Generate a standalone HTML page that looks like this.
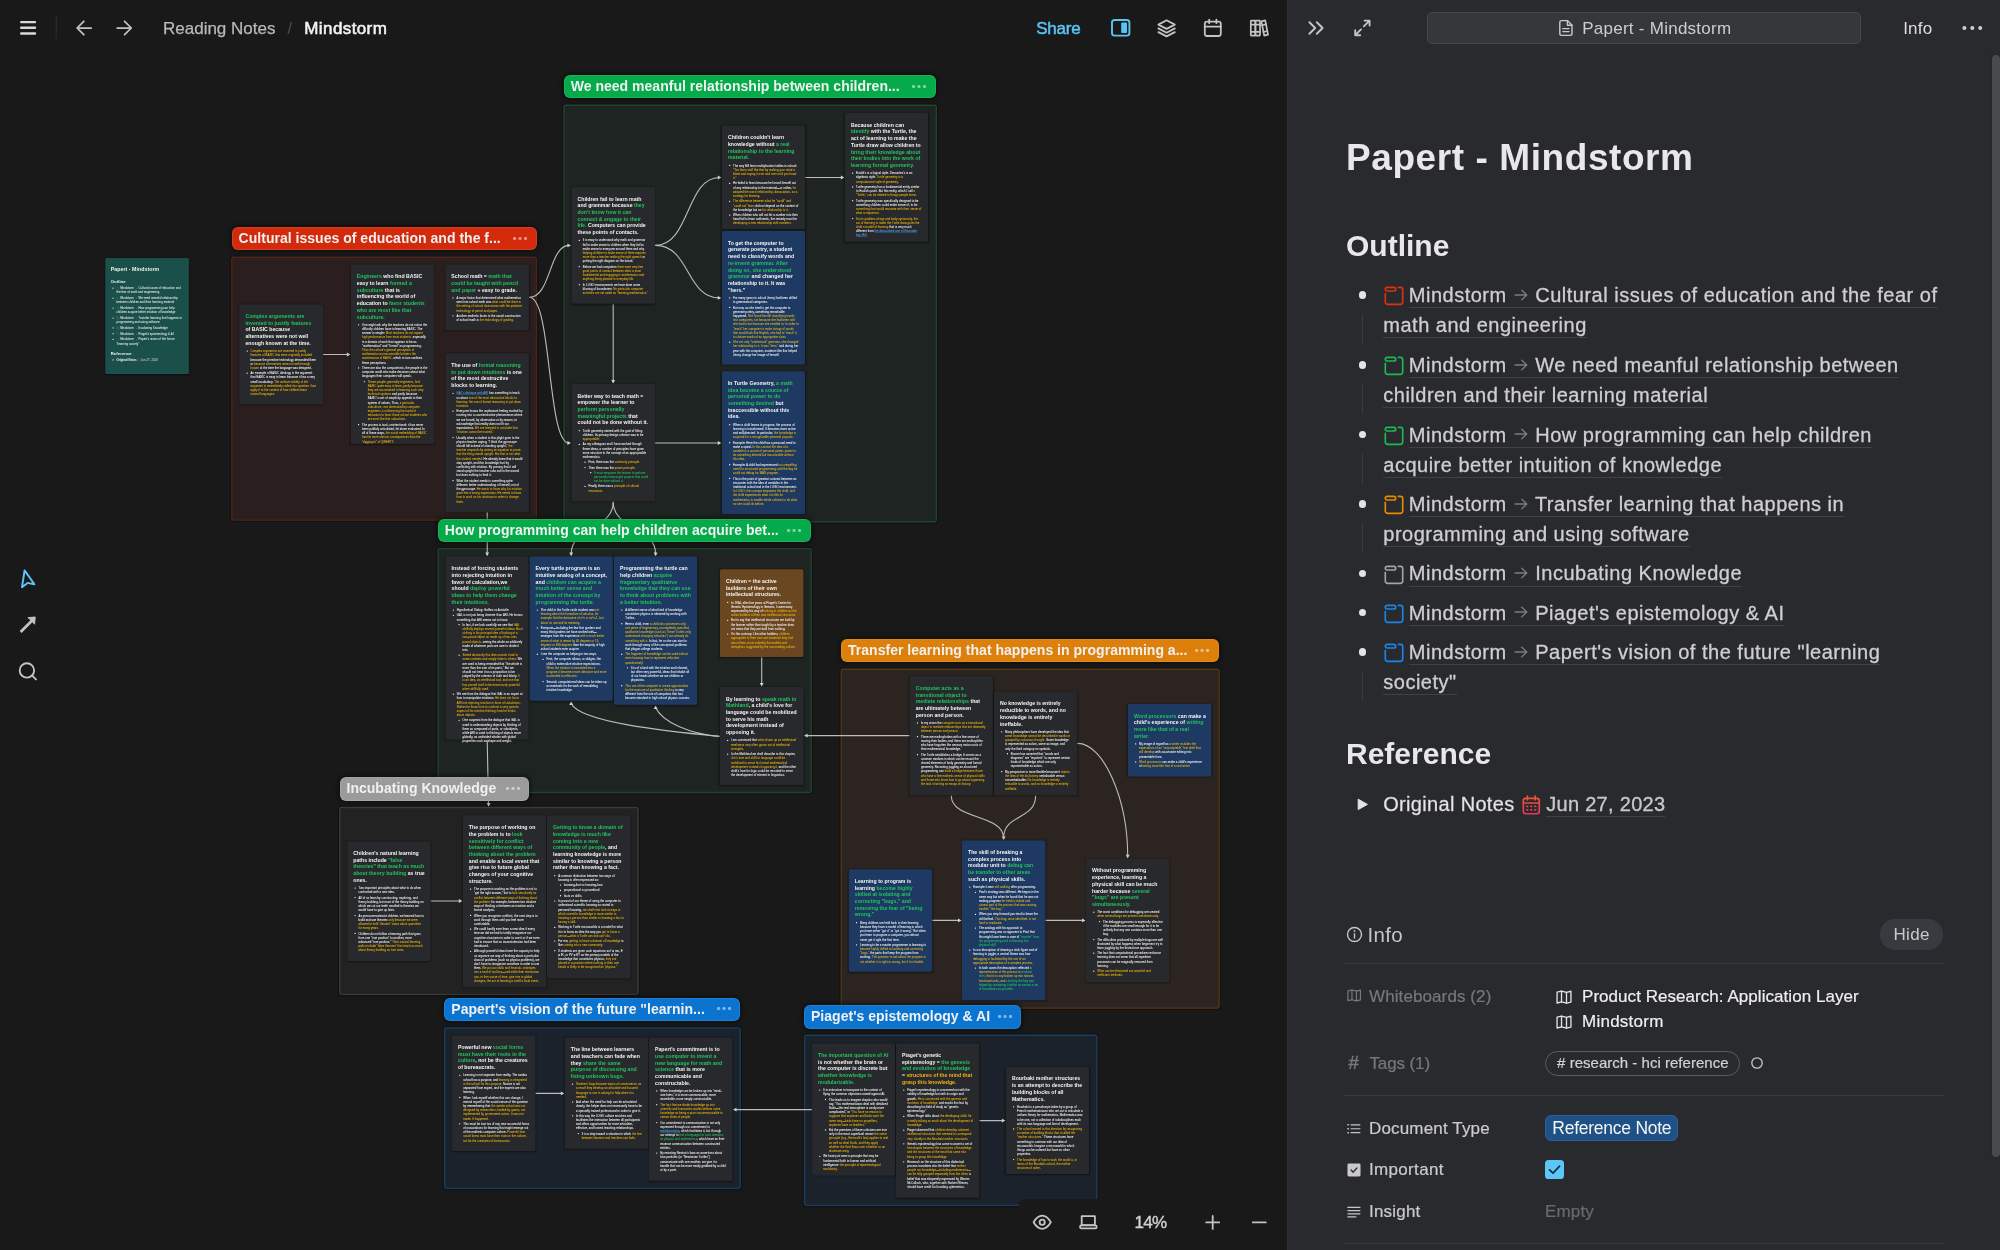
<!DOCTYPE html>
<html><head><meta charset="utf-8"><title>Mindstorm</title>
<style>
*{box-sizing:border-box;margin:0;padding:0}
html,body{width:2000px;height:1250px;overflow:hidden;background:#191919}
body{font-family:"Liberation Sans",sans-serif;color:#e6e6e6;position:relative}
#canvas{position:absolute;left:0;top:0;width:1287px;height:1250px;background:#191919;overflow:hidden;will-change:transform}
#panel{position:absolute;left:1287px;top:0;width:713px;height:1250px;background:#292a2e;box-shadow:inset 1px 0 0 #2f3034;overflow:hidden;will-change:transform}
.abs{position:absolute}
svg{position:absolute;overflow:visible}
/* top bar */
.tb-text{position:absolute;top:0;height:57.2px;line-height:57.2px;font-size:17px;white-space:nowrap}
/* sections */
.sec{position:absolute;border-radius:3px}
.lab{position:absolute;height:23.4px;border-radius:6px;color:#f0f0f0;font-weight:700;font-size:14px;line-height:23.4px;padding-left:7px;letter-spacing:.02px;white-space:nowrap;box-shadow:inset 0 0 0 1px rgba(255,255,255,.09),0 0 5px 1px rgba(0,0,0,.55)}
.lab i{position:absolute;right:9.5px;top:9.9px;width:14.2px;height:3.2px;opacity:.5;background:radial-gradient(circle at 1.6px 1.6px,#fff 1.45px,transparent 1.75px) 0 0/5.5px 3.2px repeat-x}
/* cards */
.ci{position:absolute;left:0;top:0;width:596px;transform-origin:0 0;padding:60.5px 43px 0 39px;color:#f4f4f4;letter-spacing:.55px;background:#28292d;border-radius:11px;box-shadow:0 3px 14px rgba(0,0,0,.45)}
.ci.blue{background:#1e3a63}
.ci.brown{background:#6a4621}
.ci.teal{background:#1a4f4a}
.ci h3{font-size:37px;line-height:48px;font-weight:700;margin-bottom:18px;margin-left:4px;letter-spacing:0;white-space:nowrap}
.ci ul{list-style:none;font-size:20px;line-height:30px;padding-left:41px;font-weight:400;-webkit-text-stroke:.3px}
.ci ul ul{padding-left:41px;margin-top:7px}
.ci li{position:relative;margin-bottom:8px}
.ci li:before{content:"";position:absolute;left:-29px;top:10px;width:9px;height:9px;border-radius:50%;background:#fff}
.g{color:#21c45d}
.y{color:#f0b90c}
.o{color:#f2b31c}
.b{color:#4aa8f5;text-decoration:underline}
/* panel doc */
.doc h1{position:absolute;left:59px;font-size:37px;font-weight:700;color:#e8e8e8;letter-spacing:.58px;white-space:nowrap}
.doc h2{position:absolute;left:59px;font-size:30px;font-weight:700;color:#e8e8e8;white-space:nowrap}

.ol{position:absolute;font-size:20px;line-height:30px;color:#cfcfcf;white-space:nowrap;letter-spacing:.5px;-webkit-text-stroke:.3px #cfcfcf}
.lk{border-bottom:1.3px solid #404146;padding-bottom:0px;display:inline-block;line-height:27px;height:26.4px}
.ar{display:inline-block;width:14px;height:12px;position:relative;top:-1.5px;margin:0 1px 0 1.5px}
.ar svg{position:static}
.pl{position:absolute;font-size:17px;line-height:22px;white-space:nowrap;color:#cbcbcb;margin-top:.7px;-webkit-text-stroke:.2px}
.dim{color:#77787d}
.hr{position:absolute;left:57px;width:600px;height:1px;background:#3a3b40}

.tl{white-space:nowrap;opacity:.92}
.tl li{margin-bottom:11px !important}
</style></head>
<body>
<div id="canvas">
<svg class="abs" style="left:0;top:0" width="1287" height="1250" viewBox="0 0 1287 1250">
<rect x="230.5" y="256.0" width="307.2" height="265.4" rx="2.8" fill="none" stroke="#0c0c0c" stroke-opacity=".5" stroke-width="1.2"/>
<rect x="231.78" y="257.28" width="304.65" height="262.85" rx="1.8" fill="#2a1f1e" stroke="#50221a" stroke-width="1.35"/>
<rect x="562.7" y="104.0" width="374.9" height="419.0" rx="2.8" fill="none" stroke="#0c0c0c" stroke-opacity=".5" stroke-width="1.2"/>
<rect x="563.97" y="105.27" width="372.35" height="416.45" rx="1.8" fill="#1e2421" stroke="#1f452d" stroke-width="1.35"/>
<rect x="436.8" y="547.4" width="375.7" height="246.4" rx="2.8" fill="none" stroke="#0c0c0c" stroke-opacity=".5" stroke-width="1.2"/>
<rect x="438.07" y="548.67" width="373.15" height="243.85" rx="1.8" fill="#1e2421" stroke="#1f452d" stroke-width="1.35"/>
<rect x="840.0" y="668.0" width="380.4" height="341.4" rx="2.8" fill="none" stroke="#0c0c0c" stroke-opacity=".5" stroke-width="1.2"/>
<rect x="841.27" y="669.27" width="377.85" height="338.85" rx="1.8" fill="#2b2420" stroke="#533616" stroke-width="1.35"/>
<rect x="338.5" y="806.2" width="300.9" height="189.4" rx="2.8" fill="none" stroke="#0c0c0c" stroke-opacity=".5" stroke-width="1.2"/>
<rect x="339.78" y="807.47" width="298.35" height="186.85" rx="1.8" fill="#222222" stroke="#3a3a3a" stroke-width="1.35"/>
<rect x="443.3" y="1026.6" width="298.2" height="163.0" rx="2.8" fill="none" stroke="#0c0c0c" stroke-opacity=".5" stroke-width="1.2"/>
<rect x="444.57" y="1027.88" width="295.65" height="160.45" rx="1.8" fill="#1b222b" stroke="#1b3d5e" stroke-width="1.35"/>
<rect x="803.3" y="1034.0" width="294.8" height="172.7" rx="2.8" fill="none" stroke="#0c0c0c" stroke-opacity=".5" stroke-width="1.2"/>
<rect x="804.57" y="1035.27" width="292.25" height="170.15" rx="1.8" fill="#1b222b" stroke="#1b3d5e" stroke-width="1.35"/>
</svg>
<svg class="abs" style="left:0;top:0" width="1287" height="1250" viewBox="0 0 1287 1250" fill="none" stroke="#bcbcbc" stroke-width="1.1" stroke-linecap="round">
<path d="M323.4 354.5H349"/>
<polygon points="350.4,354.5 346.79999999999995,352.6 346.79999999999995,356.4" fill="#d0d0d0" stroke="none"/>
<path d="M529.4 297.3C551 297.3 549 245.4 569 245.4"/>
<polygon points="571,245.4 567.4,243.5 567.4,247.3" fill="#d0d0d0" stroke="none"/>
<path d="M529.4 297.3C552 297.3 547 443 569 443"/>
<polygon points="571,443 567.4,441.1 567.4,444.9" fill="#d0d0d0" stroke="none"/>
<path d="M655.3 245.4C690 245.4 686 177.5 719.5 177.5"/>
<polygon points="721.4,177.5 717.8,175.6 717.8,179.4" fill="#d0d0d0" stroke="none"/>
<path d="M655.3 245.4C690 245.4 686 297.9 719.5 297.9"/>
<polygon points="721.4,297.9 717.8,296.0 717.8,299.79999999999995" fill="#d0d0d0" stroke="none"/>
<path d="M613.2 304V382"/>
<polygon points="613.2,383.6 611.3000000000001,380.0 615.1,380.0" fill="#d0d0d0" stroke="none"/>
<path d="M655.3 443H719.5"/>
<polygon points="721.4,443 717.8,441.1 717.8,444.9" fill="#d0d0d0" stroke="none"/>
<path d="M805.4 177.5H842.6"/>
<polygon points="844.4,177.5 840.8,175.6 840.8,179.4" fill="#d0d0d0" stroke="none"/>
<path d="M613.2 502C613.2 530 571.2 526 571.2 554"/>
<polygon points="571.2,556.2 569.3000000000001,552.6 573.1,552.6" fill="#d0d0d0" stroke="none"/>
<path d="M613.2 502C613.2 530 655.6 526 655.6 554"/>
<polygon points="655.6,556.2 653.7,552.6 657.5,552.6" fill="#d0d0d0" stroke="none"/>
<path d="M487.2 512.6V554"/>
<polygon points="487.2,556.2 485.3,552.6 489.09999999999997,552.6" fill="#d0d0d0" stroke="none"/>
<path d="M761.7 657.4V684.6"/>
<polygon points="761.7,686.6 759.8000000000001,683.0 763.6,683.0" fill="#d0d0d0" stroke="none"/>
<path d="M719.5 736.4C664 731 580 722 571.2 703.5"/>
<polygon points="571.2,701.3 569.3000000000001,704.9 573.1,704.9" fill="#d0d0d0" stroke="none"/>
<path d="M719.5 736.4C690 734 662 722 655.6 707.5"/>
<polygon points="655.6,705.4 653.7,709.0 657.5,709.0" fill="#d0d0d0" stroke="none"/>
<path d="M909.3 735.6H806"/>
<polygon points="804,735.6 807.6,733.7 807.6,737.5" fill="#d0d0d0" stroke="none"/>
<path d="M487.2 740L488.5 804.6"/>
<polygon points="488.6,806.6 486.70000000000005,803.0 490.5,803.0" fill="#d0d0d0" stroke="none"/>
<path d="M951.3 795.7C951.3 820 1003.6 814 1003.6 838"/>
<polygon points="1003.6,840 1001.7,836.4 1005.5,836.4" fill="#d0d0d0" stroke="none"/>
<path d="M1035.6 795.7C1035.6 820 1003.6 814 1003.6 838"/>
<path d="M1077.6 743.4C1104 743.4 1127.7 800 1127.7 856.4"/>
<polygon points="1127.7,858.4 1125.8,854.8 1129.6000000000001,854.8" fill="#d0d0d0" stroke="none"/>
<path d="M932.5 920.4H959.6"/>
<polygon points="961.6,920.4 958.0,918.5 958.0,922.3" fill="#d0d0d0" stroke="none"/>
<path d="M1045.7 920.4H1083.6"/>
<polygon points="1085.6,920.4 1082.0,918.5 1082.0,922.3" fill="#d0d0d0" stroke="none"/>
<path d="M431 901H460.4"/>
<polygon points="462.4,901 458.79999999999995,899.1 458.79999999999995,902.9" fill="#d0d0d0" stroke="none"/>
<path d="M535.8 1093.4H562.4"/>
<polygon points="564.4,1093.4 560.8,1091.5 560.8,1095.3000000000002" fill="#d0d0d0" stroke="none"/>
<path d="M811.5 1109.6H735"/>
<polygon points="732.9,1109.6 736.5,1107.6999999999998 736.5,1111.5" fill="#d0d0d0" stroke="none"/>
<path d="M979.6 1120.6H1003.5"/>
<polygon points="1005.5,1120.6 1001.9,1118.6999999999998 1001.9,1122.5" fill="#d0d0d0" stroke="none"/>
</svg>
<div class="ci teal" style="transform:translate(105.3px,257.9px) scale(.14);width:597px;height:828.6px;padding-top:55px;color:#eef3f2">
<div style="font-size:37px;font-weight:700;line-height:52px;letter-spacing:.5px">Papert - Mindstorm</div>
<div style="font-size:30px;font-weight:700;line-height:40px;margin-top:43px">Outline</div>
<ul class="tl" style="margin-top:12px"><li><svg style="position:static;vertical-align:-3px;margin-right:5px" width="21" height="21" viewBox="0 0 21 21" fill="none" stroke="#d4512f" stroke-width="1.7"><path d="M11.2 2.6H16.2A2.6 2.6 0 0 1 18.8 5.2V16.4A2.6 2.6 0 0 1 16.2 19H3.8A2.6 2.6 0 0 1 1.2 16.4V6.4"/><rect x="1.2" y="0.9" width="8.8" height="3.4" rx="1.7"/></svg>Mindstorm &rarr; Cultural issues of education and<br>the fear of math and engineering</li><li><svg style="position:static;vertical-align:-3px;margin-right:5px" width="21" height="21" viewBox="0 0 21 21" fill="none" stroke="#2aa85a" stroke-width="1.7"><path d="M11.2 2.6H16.2A2.6 2.6 0 0 1 18.8 5.2V16.4A2.6 2.6 0 0 1 16.2 19H3.8A2.6 2.6 0 0 1 1.2 16.4V6.4"/><rect x="1.2" y="0.9" width="8.8" height="3.4" rx="1.7"/></svg>Mindstorm &rarr; We need meanful relationship<br>between children and their learning material</li><li><svg style="position:static;vertical-align:-3px;margin-right:5px" width="21" height="21" viewBox="0 0 21 21" fill="none" stroke="#2aa85a" stroke-width="1.7"><path d="M11.2 2.6H16.2A2.6 2.6 0 0 1 18.8 5.2V16.4A2.6 2.6 0 0 1 16.2 19H3.8A2.6 2.6 0 0 1 1.2 16.4V6.4"/><rect x="1.2" y="0.9" width="8.8" height="3.4" rx="1.7"/></svg>Mindstorm &rarr; How programming can help<br>children acquire better intuition of knowledge</li><li><svg style="position:static;vertical-align:-3px;margin-right:5px" width="21" height="21" viewBox="0 0 21 21" fill="none" stroke="#d98a1a" stroke-width="1.7"><path d="M11.2 2.6H16.2A2.6 2.6 0 0 1 18.8 5.2V16.4A2.6 2.6 0 0 1 16.2 19H3.8A2.6 2.6 0 0 1 1.2 16.4V6.4"/><rect x="1.2" y="0.9" width="8.8" height="3.4" rx="1.7"/></svg>Mindstorm &rarr; Transfer learning that happens in<br>programming and using software</li><li><svg style="position:static;vertical-align:-3px;margin-right:5px" width="21" height="21" viewBox="0 0 21 21" fill="none" stroke="#8fa5a2" stroke-width="1.7"><path d="M11.2 2.6H16.2A2.6 2.6 0 0 1 18.8 5.2V16.4A2.6 2.6 0 0 1 16.2 19H3.8A2.6 2.6 0 0 1 1.2 16.4V6.4"/><rect x="1.2" y="0.9" width="8.8" height="3.4" rx="1.7"/></svg>Mindstorm &rarr; Incubating Knowledge</li><li><svg style="position:static;vertical-align:-3px;margin-right:5px" width="21" height="21" viewBox="0 0 21 21" fill="none" stroke="#2a86d8" stroke-width="1.7"><path d="M11.2 2.6H16.2A2.6 2.6 0 0 1 18.8 5.2V16.4A2.6 2.6 0 0 1 16.2 19H3.8A2.6 2.6 0 0 1 1.2 16.4V6.4"/><rect x="1.2" y="0.9" width="8.8" height="3.4" rx="1.7"/></svg>Mindstorm &rarr; Piaget's epistemology &amp; AI</li><li><svg style="position:static;vertical-align:-3px;margin-right:5px" width="21" height="21" viewBox="0 0 21 21" fill="none" stroke="#2a86d8" stroke-width="1.7"><path d="M11.2 2.6H16.2A2.6 2.6 0 0 1 18.8 5.2V16.4A2.6 2.6 0 0 1 16.2 19H3.8A2.6 2.6 0 0 1 1.2 16.4V6.4"/><rect x="1.2" y="0.9" width="8.8" height="3.4" rx="1.7"/></svg>Mindstorm &rarr; Papert's vision of the future<br>"learning society"</li></ul>
<div style="font-size:30px;font-weight:700;line-height:40px;margin-top:34px">Reference</div>
<ul class="tl" style="margin-top:12px"><li style="font-weight:700">Original Notes <span style="display:inline-block;width:17px;height:18px;border:2.5px solid #e8505f;border-radius:3px;vertical-align:-3px"></span> <span style="font-weight:400;opacity:.8">Jun 27, 2023</span></li></ul>
</div>
<div class="ci " style="transform:translate(239.4px,304.4px) scale(.14);width:597.14px;height:714.29px"><h3><span class="g">Complex arguments are</span><br><span class="g">invented to justify features</span><br>of BASIC because<br>alternatives were not well<br>enough known at the time.</h3><ul><li><span class="y">Complex arguments are invented to justify features of BASIC that were originally included</span> because the primitive technology demanded them or <span class="y">because alternatives were not well enough known</span> at the time the language was designed.</li><li>An example of BASIC ideology is the argument that BASIC is easy to learn because it has a very small vocabulary. <span class="y">The surface validity of the argument is immediately called into question if we apply it to the context of how children learn natural languages.</span></li></ul></div>
<div class="ci " style="transform:translate(350.8px,264.7px) scale(.14);width:594.29px;height:1280.71px"><h3><span class="g">Engineers</span> who find BASIC<br>easy to learn <span class="g">formed a</span><br><span class="g">subculture</span> that is<br>influencing the world of<br>education to <span class="g">favor students</span><br><span class="g">who are most like that</span><br><span class="g">subculture.</span></h3><ul><li>One might ask why the teachers do not notice the difficulty children have in learning BASIC. The answer is simple: <span class="y">Most teachers do not expect high performance from most students,</span> especially in a domain of work that appears to be as "mathematical" and "formal" as programming. <span class="y">Thus the culture's general perception of mathematics as inaccessible bolsters the maintenance of BASIC,</span> which in turn confirms these perceptions.</li><li>There are also the computerists, the people in the computer world who make decisions about what languages their computers will speak.<ul><li><span class="y">These people, generally engineers, find BASIC quite easy to learn, partly because they are accustomed to learning such very technical systems</span> and partly because BASIC's sort of simplicity appeals to their system of values. Thus, <span class="y">a particular subculture, one dominated by computer engineers, is influencing the world of education to favor those school students who are most like that subculture.</span></li></ul></li><li>The process is tacit, unintentional: it has never been publicly articulated, let alone evaluated. In all of these ways, <span class="y">the social embedding of BASIC has far more serious consequences than the "digging in" of QWERTY.</span></li></ul></div>
<div class="ci " style="transform:translate(445.3px,264.7px) scale(.14);width:597.86px;height:469.29px"><h3>School math = <span class="g">math that</span><br><span class="g">could be taught with pencil</span><br><span class="g">and paper</span> + easy to grade.</h3><ul><li>A major factor that determined what mathematics went into school math was <span class="y">what could be done in the setting of school classrooms with the primitive technology of pencil and paper.</span></li><li>Another mathetic factor in the social construction of school math is <span class="y">the technology of grading.</span></li></ul></div>
<div class="ci " style="transform:translate(445.3px,353.3px) scale(.14);width:597.86px;height:1135.71px"><h3>The use of <span class="g">formal reasoning</span><br><span class="g">to put down intuitions</span> is one<br>of the most destructive<br>blocks to learning.</h3><ul><li><span class="b">GAL's dialogue with ARI</span> has something to teach us about <span class="y">one of the most destructive blocks to learning: the use of formal reasoning to put down intuitions.</span></li><li>Everyone knows the unpleasant feeling evoked by running into a counterintuitive phenomenon where we are forced, by observation or by reason, to acknowledge that reality does not fit our expectations. <span class="y">We are tempted to conclude that "intuition cannot be trusted."</span></li><li>Usually when a student in this plight goes to the physics teacher saying, "I think the gyroscope should fall instead of standing upright," <span class="y">the teacher responds by writing an equation to prove that the thing stands upright. But that is not what the student needed.</span> He already knew that it would stay upright, and this knowledge hurt by conflicting with intuition. By proving that it will stand upright the teacher rubs salt in the wound but does nothing to heal it.</li><li>What the student needs is something quite different: better understanding of himself, not of the gyroscope. <span class="y">He wants to know why his intuition gave him a wrong expectation. He needs to know how to work on his intuitions in order to change them.</span></li></ul></div>
<div class="ci " style="transform:translate(571.5px,187px) scale(.14);width:595.71px;height:832.86px"><h3>Children fail to learn math<br>and grammar because <span class="g">they</span><br><span class="g">don't know how it can</span><br><span class="g">connect &amp; engage to their</span><br><span class="g">life.</span> Computers can provide<br>these points of contacts.</h3><ul><li>It is easy to understand why math and grammar fail to make sense to children when they fail to make sense to everyone around them and why <span class="y">helping children to make sense of them requires more than a teacher making the right speech</span> or putting the right diagram on the board.</li><li>Before we had computers <span class="y">there were very few good points of contact between what is most fundamental and engaging in mathematics and anything firmly planted in everyday life.</span></li><li>In LOGO environments we have done some blurring of boundaries: <span class="y">No particular computer activities are set aside as "learning mathematics."</span></li></ul></div>
<div class="ci " style="transform:translate(721.9px,125.5px) scale(.14);width:593.57px;height:739.29px"><h3>Children couldn't learn<br>knowledge without <span class="g">a real</span><br><span class="g">relationship to the learning</span><br><span class="g">material.</span></h3><ul><li>The way Bill learn multiplication tables in school: <span class="y">"You learn stuff like that by making your mind a blank and saying it over and over until you know it."</span></li><li>He failed to learn because he forced himself out of any relationship to the material—or rather, <span class="y">he adopted the worst relationship, dissociation, as a strategy for learning.</span></li><li><span class="y">The difference between what he "could" and "could not" learn</span> did not depend on the content of the knowledge but on <span class="y">his relationship to it.</span></li><li>When children who will not let a number into their head fail to learn arithmetic, the remedy must be <span class="y">developing a new relationship with numbers.</span></li></ul></div>
<div class="ci blue" style="transform:translate(721.9px,231.1px) scale(.14);width:593.57px;height:952.86px"><h3>To get the computer to<br>generate poetry, a student<br>need to classify words and<br><span class="g">re-invent grammar. After</span><br><span class="g">doing so, she understood</span><br><span class="g">grammar</span> and changed her<br>relationship to it. It was<br>"hers."</h3><ul><li>For many years in school Jenny had been drilled in grammatical categories.</li><li>But now, as she tried to get the computer to generate poetry, something remarkable happened. <span class="y">She found herself classifying words into categories, not because she had been told she had to but because she needed to. In order to "teach" her computer to make strings of words that would look like English, she had to "teach" it to choose words of an appropriate class.</span></li><li><span class="y">She not only "understood" grammar, she changed her relationship to it. It was "hers,"</span> and during her year with the computer, incidents like this helped Jenny change her image of herself.</li></ul></div>
<div class="ci " style="transform:translate(844.9px,113.1px) scale(.14);width:593.57px;height:917.86px"><h3>Because children can<br><span class="g">identify</span> with the Turtle, the<br>act of learning to make the<br>Turtle draw allow children to<br><span class="g">bring their knowledge about</span><br><span class="g">their bodies into the work of</span><br><span class="g">learning formal geometry.</span></h3><ul><li>Euclid's is a logical style. Descartes's is an algebraic style. <span class="y">Turtle geometry is a computational style of geometry.</span></li><li>Turtle geometry has a fundamental entity similar to Euclid's point. But this entity, which I call <span class="y">a "Turtle," can be related to things people know.</span></li><li>Turtle geometry was specifically designed to be something children could make sense of, to be <span class="y">something that would resonate with their sense of what is important.</span></li><li><span class="y">So its qualities of ego and body syntonicity, the act of learning to make the Turtle draw gives the child a model of learning</span> that is very much different from <span class="b">the dissociated one a fifth-grade boy, Bill.</span></li></ul></div>
<div class="ci " style="transform:translate(571.5px,384px) scale(.14);width:595.71px;height:839.29px"><h3>Better way to teach math =<br>empower the learner to<br><span class="g">perform personally</span><br><span class="g">meaningful projects</span> that<br>could not be done without it.</h3><ul><li>Turtle geometry started with the goal of fitting children. Its primary design criterion was to be <span class="y">appropriable.</span></li><li>As my colleagues and I have worked through these ideas, a number of principles have given more structure to the concept of an appropriable mathematics.<ul><li>First, there was the <span class="y">continuity principle.</span></li><li>Then there was the <span class="y">power principle.</span><ul><li><span class="g">It must empower the learner to perform personally meaningful projects that could not be done without it.</span></li></ul></li><li>Finally there was a <span class="y">principle of cultural resonance.</span></li></ul></li></ul></div>
<div class="ci blue" style="transform:translate(721.9px,371.3px) scale(.14);width:593.57px;height:1021.43px"><h3>In Turtle Geometry, <span class="g">a math</span><br><span class="g">idea become a source of</span><br><span class="g">personal power to do</span><br><span class="g">something desired</span> but<br>inaccessible without this<br>idea.</h3><ul><li>When a child learns to program, the process of learning is transformed. It becomes more active and self-directed. In particular, <span class="y">the knowledge is acquired for a recognizable personal purpose.</span></li><li>Example: Here the child has a personal need to make a spiral. <span class="y">In this context the idea of a variable is a source of personal power, power to do something desired but inaccessible without this idea.</span></li><li>Example: A child had experienced <span class="y">no compelling need for structured programming until the day he could not debug his MAN program.</span></li><li>This is the point of greatest contrast between an encounter with the idea of variables in the traditional school and in the LOGO environment. <span class="y">In LOGO, the concept empowers the child, and the child experiences what it is like for mathematics to enable whole cultures to do what no one could do before.</span></li></ul></div>
<div class="ci " style="transform:translate(445.6px,556.6px) scale(.14);width:592.86px;height:1306.43px"><h3>Instead of forcing students<br>into rejecting intuition in<br>favor of calculation,we<br>should <span class="g">deploy powerful</span><br><span class="g">ideas to help them change</span><br><span class="g">their intuitions.</span></h3><ul><li>Hypothetical Dialog: Galileo vs Aristotle</li><li>GAL is not just being cleverer than ARI. He knows something that ARI seems not to know.<ul><li>In fact, if we look carefully we see that <span class="y">GAL skillfully deploys several powerful ideas. Most striking is his principal idea of looking at a two-pound object as made up of two one-pound objects,</span> seeing the whole as additively made of whatever parts we care to divide it into.</li><li><span class="y">Stated abstractly this idea sounds trivial in some contexts and simply false in others:</span> We are used to being reminded that "the whole is more than the sum of its parts." But we should not treat it as a proposition to be judged by the criterion of truth and falsity. <span class="y">It is an idea, an intellectual tool, and one that has proved itself to be enormously powerful when skillfully used.</span></li></ul></li><li>We see from the dialogue that GAL is an expert at how to manipulate intuitions. <span class="y">He does not force ARI into rejecting intuition in favor of calculation. Rather he forces him to confront a very specific aspect of his intuitive thinking: how he thinks about objects.</span><ul><li>One suspects from the dialogue that GAL is used to understanding objects by thinking of them as composed of parts, or subobjects, while ARI is used to thinking of objects more globally, as undivided wholes with global properties such as shape and weight.</li></ul></li></ul></div>
<div class="ci blue" style="transform:translate(529.6px,556.6px) scale(.14);width:594.29px;height:1029.29px"><h3>Every turtle program is an<br>intuitive analog of a concept,<br>and <span class="g">children can acquire a</span><br><span class="g">much better sense and</span><br><span class="g">intuition of the concept by</span><br><span class="g">programming the turtle.</span></h3><ul><li>The child in the Turtle circle incident was <span class="y">not learning about the formalism of calculus, for example that the derivative of x^n is nx^n-1, but about its use and its meaning.</span></li><li>Everyone—including the few first graders and many third graders we have worked with—emerges from the experience <span class="y">with a much better sense of what is meant by 45 degrees or 10 degrees or 360 degrees</span> than the majority of high school students ever acquire.</li><li>I see the computer as helping in two ways.<ul><li>First, the computer allows, or obliges, the child to externalize intuitive expectations. <span class="y">When the intuition is translated into a program it becomes more obtrusive and more accessible to reflection.</span></li><li>Second, computational ideas can be taken up as materials for the work of remodeling intuitive knowledge.</li></ul></li></ul></div>
<div class="ci blue" style="transform:translate(614px,556.6px) scale(.14);width:594.29px;height:1059.29px"><h3>Programming the turtle can<br>help children <span class="g">acquire</span><br><span class="g">fragmentary qualitative</span><br><span class="g">knowledge that they can use</span><br><span class="g">to think about problems with</span><br><span class="g">a better intuition.</span></h3><ul><li>A different sense of what kind of knowledge constitutes physics is obtained by working with Turtles.</li><li>Here a child, even <span class="y">a child who possesses only one piece of fragmentary, incompletely specified, qualitative knowledge (such as "these Turtles only understand changing velocities") can already do something with it.</span> In fact, he or she can start to work through many of the conceptual problems that plague college students.</li><li><span class="y">The fragment of knowledge can be used without even knowing how to represent velocities quantitatively!</span><ul><li>It is of a kind with the intuitive and informal, but often very powerful, ideas that inhabit all of our heads whether we are children or physicists.</li></ul></li><li><span class="y">This use of the computer to create opportunities for the exercise of qualitative thinking</span> is very different from the use of computers that has become standard in high school physics courses.</li></ul></div>
<div class="ci brown" style="transform:translate(719.9px,569.2px) scale(.14);width:597.14px;height:627.14px"><h3>Children = the active<br>builders of their own<br>intellectual structures.</h3><ul><li>In 1964, after five years at Piaget's Center for Genetic Epistemology in Geneva, I came away impressed by his way of <span class="y">looking at children as the active builders of their own intellectual structures.</span></li><li>But to say that intellectual structures are built by the learner rather than taught by a teacher does not mean that they are built from nothing.</li><li>On the contrary: Like other builders, <span class="y">children appropriate to their own use materials they find about them, most saliently the models and metaphors suggested by the surrounding culture.</span></li></ul></div>
<div class="ci " style="transform:translate(719.9px,687px) scale(.14);width:597.14px;height:700.0px"><h3>By learning to <span class="g">speak math in</span><br><span class="g">Mathland</span>, a child's love for<br>language could be mobilized<br>to serve his math<br>development instead of<br>opposing it.</h3><ul><li>I am convinced that <span class="y">what shows up as intellectual weakness very often grows out of intellectual strengths.</span></li><li>In the Mathland we shall describe in this chapter, <span class="y">Jim's love and skill for language could be mobilized to serve his formal mathematical development instead of opposing it,</span> and the other child's love for logic could be recruited to serve the development of interest in linguistics.</li></ul></div>
<div class="ci " style="transform:translate(909.7px,676.3px) scale(.14);width:595.0px;height:850.0px"><h3><span class="g">Computer acts as a</span><br><span class="g">transitional object to</span><br><span class="g">mediate relationships</span> that<br>are ultimately between<br>person and person.</h3><ul><li>In my vision the <span class="y">computer acts as a transitional object to mediate relationships that are ultimately between person and person.</span></li><li>There are mathophobes with a fine sense of moving their bodies, and there are mathophiles who have forgotten the sensory motor roots of their mathematical knowledge.</li><li>The Turtle establishes a bridge. It serves as a common medium in which can be recast the shared elements of body geometry and formal geometry. Recasting juggling as structured programming can <span class="y">build a bridge between those who have a fine mathetic sense of physical skills and those who know how to go about organizing the task of writing an essay on history.</span></li></ul></div>
<div class="ci " style="transform:translate(993.9px,691.8px) scale(.14);width:595.0px;height:739.29px"><h3>No knowledge is entirely<br>reducible to words, and no<br>knowledge is entirely<br>ineffable.</h3><ul><li>Many philosophers have developed the idea that <span class="y">some knowledge cannot be described in words or grasped by conscious thought.</span> Some knowledge is represented as action, some as image, and only the third category as symbols.<ul><li>Bruner has asserted that "words and diagrams" are "impotent" to represent certain kinds of knowledge which are only representable as action.</li></ul></li><li>My perspective is more flexible because it <span class="y">rejects the idea of the dichotomy</span> verbalizable versus nonverbalizable. <span class="y">No knowledge is entirely reducible to words, and no knowledge is entirely ineffable.</span></li></ul></div>
<div class="ci blue" style="transform:translate(1127.9px,704px) scale(.14);width:595.0px;height:517.14px"><h3><span class="g">Word processors</span> can make a<br>child's experience of <span class="g">writing</span><br><span class="g">more like that of a real</span><br><span class="g">writer.</span></h3><ul><li>My image of myself as <span class="y">a writer includes the expectation of an "unacceptable" first draft that will develop</span> with successive editing into presentable form.</li><li><span class="y">Word processors</span> can make a child's experience of <span class="y">writing more like that of a real writer.</span></li></ul></div>
<div class="ci blue" style="transform:translate(848.8px,869.3px) scale(.14);width:595.0px;height:730.71px"><h3>Learning to program is<br>learning <span class="g">become highly</span><br><span class="g">skilled at isolating and</span><br><span class="g">correcting "bugs," and</span><br><span class="g">removing the fear of "being</span><br><span class="g">wrong."</span></h3><ul><li>Many children are held back in their learning because they have a model of learning in which you have either "got it" or "got it wrong." But when you learn to program a computer, you almost never get it right the first time.</li><li>Learning to be a master programmer is learning to <span class="y">become highly skilled at isolating and correcting "bugs,"</span> the parts that keep the program from working. <span class="y">The question to ask about the program is not whether it is right or wrong, but if it is fixable.</span></li></ul></div>
<div class="ci blue" style="transform:translate(962px,840.4px) scale(.14);width:595.0px;height:1141.43px"><h3>The skill of breaking a<br>complex process into<br>modular unit to <span class="g">debug can</span><br><span class="g">be transfer to other areas</span><br>such as physical skills.</h3><ul><li>Example: Learn <span class="y">stilt walking</span> after programming.<ul><li>Paul's strategy was different. He began in the same way but when he found that he was not making progress <span class="y">he tried to isolate and correct part of the process that was causing trouble: "the bug."</span></li><li>When you step forward you tend to leave the stilt behind. <span class="y">This bug, once identified, is not hard to eradicate.</span></li><li>The analogy with his approach to programming was so apparent to Paul that this might have been a case of <span class="g">"transfer" from the programming work to learning this physical skill.</span></li></ul></li><li>In our description of drawing a stick figure and of learning to juggle, a central theme was how <span class="y">debugging is facilitated by the use of an appropriate description of a complex process.</span><ul><li>In both cases the description reflected <span class="y">a representation of the process in</span> <span class="g">modular form</span><span class="y">, that is to say broken up into natural, functional units, and</span> <span class="g">catching the bug was helped by containing it within as narrow a set of boundaries as possible.</span></li></ul></li></ul></div>
<div class="ci " style="transform:translate(1086px,858.8px) scale(.14);width:595.71px;height:880.71px"><h3>Without programming<br>experience, learning a<br>physical skill can be much<br>harder because <span class="g">several</span><br><span class="g">"bugs" are present</span><br><span class="g">simultaneously.</span></h3><ul><li>The worst conditions for debugging are created <span class="y">when several bugs are present simultaneously.</span><ul><li>The debugging process is especially effective if the modules are small enough for it to be unlikely that any one contains more than one bug.</li></ul></li><li>The difficulties produced by multiple bugs are well illustrated by what happens when beginners try to learn juggling by the brute-force approach.</li><li>The fact that computational procedures enhance learning does not mean that all repetitive processes can be magically removed from learning.</li><li><span class="y">What can be eliminated are wasteful and inefficient methods.</span></li></ul></div>
<div class="ci " style="transform:translate(347.3px,841.4px) scale(.14);width:594.29px;height:853.57px"><h3>Children's natural learning<br>paths include <span class="g">"false</span><br><span class="g">theories" that teach as much</span><br><span class="g">about theory building</span> as true<br>ones.</h3><ul><li>Two important principles about what to do when confronted with a new idea.</li><li>All of us learn by constructing, exploring, and theory building, but most of the theory building on which we cut our teeth resulted in theories we would have to give up later.</li><li>As preconservationist children, we learned how to build and use theories <span class="y">only because we were allowed to hold "deviant" views about quantities for many years.</span></li><li>Children do not follow a learning path that goes from one "true position" to another, more advanced "true position." <span class="y">Their natural learning paths include "false theories" that teach as much about theory building as true ones.</span></li></ul></div>
<div class="ci " style="transform:translate(462.8px,815.6px) scale(.14);width:595.71px;height:1225.71px"><h3>The purpose of working on<br>the problem is to <span class="g">look</span><br><span class="g">sensitively for conflict</span><br><span class="g">between different ways of</span><br><span class="g">thinking about the problem</span><br>and enable a local event that<br>give rise to future global<br>changes of your cognitive<br>structure.</h3><ul><li>The purpose in working on the problem is not to "get the right answer," but to <span class="y">look sensitively for conflict between different ways of thinking about the problem:</span> for example, between two intuitive ways of thinking or between an intuitive and a formal analysis.</li><li>When you recognize conflicts, the next step is to work through them until you feel more comfortable.</li><li>We could hardly ever learn a new idea if every time we did we had to totally reorganize our cognitive structures in order to use it or if we even had to ensure that no inconsistencies had been introduced.</li><li>Although powerful ideas have the capacity to help us organize our way of thinking about a particular class of problems (such as physics problems), we don't have to reorganize ourselves in order to use them. <span class="y">We put our skills and heuristic strategies into a kind of tool box—and while their interaction can, in the course of time, give rise to global changes, the act of learning is itself a local event.</span></li></ul></div>
<div class="ci " style="transform:translate(547px,815.6px) scale(.14);width:595.71px;height:1162.14px"><h3><span class="g">Getting to know a domain of</span><br><span class="g">knowledge is much like</span><br><span class="g">coming into a new</span><br><span class="g">community of people</span>, and<br>learning knowledge is more<br>similar to knowing a person<br>rather than knowing a fact.</h3><ul><li>A common distinction between two ways of knowing is often expressed as:<ul><li>knowing-that vs knowing-how</li><li>propositional vs procedural</li><li>facts vs skills.</li></ul></li><li>In pursuit of our theme of using the computer to understand scientific knowing as rooted in personal knowing, <span class="y">we shall next look at ways in which scientific knowledge is more similar to knowing a person than similar to knowing a fact or having a skill.</span></li><li>Working in Turtle microworlds is a model for what it is to know an idea the way you <span class="y">get to know a person—what a Turtle can and can't do.</span></li><li>For me, <span class="y">getting to know a domain of knowledge</span> is like <span class="y">coming into a new community.</span></li><li>If students are given such equations as f = ma, E = IR, or PV = RT as the primary models of the knowledge that constitutes physics, <span class="y">they are placed in a position where nothing in their own heads is likely to be recognized as "physics."</span></li></ul></div>
<div class="ci " style="transform:translate(452px,1035.4px) scale(.14);width:595.71px;height:825.0px"><h3>Powerful new <span class="g">social forms</span><br><span class="g">must have their roots in the</span><br><span class="g">culture</span>, not be the creatures<br>of bureaucrats.</h3><ul><li>Learning is not separate from reality. The samba school has a purpose, and <span class="y">learning is integrated in the school for this purpose.</span> Novice is not separated from expert, and the experts are also learning.</li><li>When I ask myself whether this can change, I remind myself of the social nature of the question by remembering that <span class="y">the samba school was not designed by researchers, funded by grants, nor implemented by government action. It was not made. It happened.</span></li><li>This must be true too of any new successful forms of associations for learning that might emerge out of the mathetic computer culture. <span class="y">Powerful new social forms must have their roots in the culture, not be the creatures of bureaucrats.</span></li></ul></div>
<div class="ci " style="transform:translate(564.8px,1037.5px) scale(.14);width:594.29px;height:795.0px"><h3>The line between learners<br>and teachers can fade when<br>they <span class="g">share the same</span><br><span class="g">purpose of discussing and</span><br><span class="g">fixing unknown bugs.</span></h3><ul><li><span class="y">Students' bugs become topics of conversation; as a result they develop an articulate and focused language to use in asking for help when it is needed.</span></li><li>And when the need for help can be articulated clearly, the helper does not necessarily have to be a specially trained professional in order to give it.</li><li>In this way the LOGO culture enriches and facilitates the interaction between all participants and offers opportunities for more articulate, effective, and honest teaching relationships.<ul><li>It is a step toward a situation in which <span class="y">the line between learners and teachers can fade.</span></li></ul></li></ul></div>
<div class="ci " style="transform:translate(649px,1037.5px) scale(.14);width:595.71px;height:1024.29px"><h3>Papert's commitment is to<br><span class="g">use computer to invent a</span><br><span class="g">new language for math and</span><br><span class="g">science</span> that is more<br>communicable and<br>constructable.</h3><ul><li>When knowledge can be broken up into "mind-size bites," it is more communicable, more assimilable, more simply constructable.</li><li><span class="y">The fact that we divide knowledge up into scientific and humanistic worlds defines some knowledge as being a priori uncommunicable to certain kinds of people.</span></li><li>Our commitment to communication is not only expressed through our commitment to <span class="b">modularization</span>, which facilitates it, but through our attempt to <span class="g">find a language for such domains as physics and mathematics</span>, which have as their essence communication between constructed entities.</li><li>By restating Newton's laws as assertions about how particles (or "Newtonian Turtles") communicate with one another, we give it a handle that can be more easily grabbed by a child or by a poet.</li></ul></div>
<div class="ci " style="transform:translate(812px,1043.4px) scale(.14);width:592.86px;height:943.57px"><h3><span class="g">The important question of AI</span><br>is not whether the brain or<br>the computer is discrete but<br><span class="g">whether knowledge is</span><br><span class="g">modularizable.</span></h3><ul><li>It is instructive to transpose to the context of flying the common objections raised against AI.<ul><li>This leads us to imagine skeptics who would say, "You mathematicians deal with idealized fluids—the real atmosphere is vastly more complicated," or <span class="y">"You have no reason to suppose that airplanes and birds work the same way—birds have no propellers, airplanes have no feathers."</span></li><li>But the premises of these criticisms are true only in the most superficial sense: <span class="y">the same principle (e.g., Bernoulli's law) applies to real as well as ideal fluids, and they apply whether the fluid flows over a feather or an aluminum wing.</span></li></ul></li><li>We have just seen a principle that may be fundamental both to human and artificial intelligence: <span class="y">the principle of epistemological modularity.</span></li></ul></div>
<div class="ci " style="transform:translate(896px,1043.4px) scale(.14);width:594.29px;height:1102.14px"><h3>Piaget's genetic<br>epistemology = <span class="g">the genesis</span><br><span class="g">and evolution of knowledge</span><br>= <span class="o">structures of the mind that</span><br><span class="o">grasp this knowledge.</span></h3><ul><li>Piaget's epistemology is concerned not with the validity of knowledge but with its origin and growth. <span class="y">He is concerned with the genesis and evolution of knowledge,</span> and marks this fact by describing his field of study as "genetic epistemology."</li><li>When Piaget talks about <span class="y">the developing child, he is really talking as much about the development of knowledge.</span></li><li>Piaget observed that <span class="y">children develop coherent intellectual structures that seemed to correspond very closely to the Bourbaki mother structures.</span></li><li>Genetic epistemology has come to assert a set of <span class="y">homologies between the structures of knowledge and the structures of the mind that come into being to grasp this knowledge.</span></li><li>Research on the structure of this dialectical process translates into the belief that <span class="y">neither people nor knowledge—including mathematics—can be fully grasped separately from the other,</span> a belief that was eloquently expressed by Warren McCulloch, who, together with Norbert Wiener, should have credit for founding cybernetics.</li></ul></div>
<div class="ci " style="transform:translate(1005.9px,1066.9px) scale(.14);width:593.57px;height:765.0px"><h3>Bourbaki mother structures<br>is an attempt to describe the<br>building blocks of all<br>Mathematics.</h3><ul><li>Bourbaki is a pseudonym taken by a group of French mathematicians who set out to articulate a uniform theory for mathematics. Mathematics was to be one, not a collection of subdisciplines each with its own language and line of development.</li><li><span class="y">The school moved in this direction by recognizing a number of building blocks that it called the "mother structures."</span> These structures have something in common with our idea of microworlds. Imagine a microworld in which things can be ordered but have no other properties.</li><li><span class="y">The knowledge of how to work the world is, in terms of the Bourbaki school, the mother structure of order.</span></li></ul></div>
<div class="lab" style="left:231.6px;top:227px;width:305.4px;background:#d32a0b">Cultural issues of education and the f...<i></i></div>
<div class="lab" style="left:563.7px;top:75px;width:372.3px;background:#05ab4a">We need meanful relationship between children...<i></i></div>
<div class="lab" style="left:437.8px;top:518.8px;width:373.2px;background:#05ab4a">How programming can help children acquire bet...<i></i></div>
<div class="lab" style="left:841px;top:638.8px;width:378px;background:#dc800b">Transfer learning that happens in programming a...<i></i></div>
<div class="lab" style="left:339.5px;top:777.4px;width:189.9px;background:#9b9b9b">Incubating Knowledge<i></i></div>
<div class="lab" style="left:444.3px;top:997.6px;width:295.9px;background:#0a74d0">Papert's vision of the future "learnin...<i></i></div>
<div class="lab" style="left:804px;top:1005.4px;width:217.4px;background:#0a74d0">Piaget's epistemology &amp; AI<i></i></div>

<!-- top bar left -->
<svg class="abs" style="left:0;top:0" width="1287" height="56" viewBox="0 0 1287 56" fill="none" stroke="#c4c4c4" stroke-width="2" stroke-linecap="round" stroke-linejoin="round">
  <path d="M21.2 22.1H35M21.2 27.8H35M21.2 33.5H35" stroke="#d8d8d8" stroke-width="2.4"/>
  <path d="M56.2 16V38.5" stroke="#2c2c2c" stroke-width="1.2"/>
  <path d="M91.2 28H77.3M83.8 21.3L77.1 28L83.8 34.7" stroke-width="1.75"/>
  <path d="M117.2 28H131.1M124.6 21.3L131.3 28L124.6 34.7" stroke-width="1.75"/>
  <!-- panel toggle -->
  <rect x="1112" y="20" width="17.4" height="15.6" rx="2.6" stroke="#5ac4f5" stroke-width="1.9"/>
  <rect x="1121.2" y="22.6" width="5.8" height="10.4" rx="1" fill="#5ac4f5" stroke="none"/>
  <!-- layers -->
  <g stroke-width="1.8">
  <path d="M1166.6 20.3L1174.8 24.6L1166.6 28.9L1158.4 24.6Z"/>
  <path d="M1158.4 28.4L1166.6 32.7L1174.8 28.4"/>
  <path d="M1158.4 32.1L1166.6 36.4L1174.8 32.1"/>
  </g>
  <!-- calendar -->
  <g stroke-width="1.8">
  <rect x="1204.8" y="21.6" width="16" height="14.4" rx="2.2"/>
  <path d="M1204.8 26.6H1220.8M1209.2 19.6V23.2M1216.4 19.6V23.2"/>
  </g>
  <!-- library/books -->
  <g stroke-width="1.7">
  <rect x="1250.8" y="20.6" width="4.6" height="15" rx=".6"/>
  <rect x="1255.4" y="20.6" width="4.6" height="15" rx=".6"/>
  <path d="M1250.8 24.6H1260M1250.8 31.8H1260"/>
  <path d="M1261.4 21.4L1265.2 20.4L1268 34.6L1264.2 35.6Z"/>
  <path d="M1262.2 25.2L1266 24.2M1263.4 32L1267.3 31"/>
  </g>
</svg>
<div class="tb-text" style="left:163px;color:#b9b9b9;letter-spacing:.0px;-webkit-text-stroke:.25px #b9b9b9">Reading Notes</div>
<div class="tb-text" style="left:287.5px;color:#4e4e4e;font-size:16px">/</div>
<div class="tb-text" style="left:304.3px;color:#f2f2f2;font-weight:400;font-size:17px;letter-spacing:.4px;-webkit-text-stroke:.55px #f2f2f2">Mindstorm</div>
<div class="tb-text" style="left:1036.2px;color:#5ac4f5;letter-spacing:-.2px;-webkit-text-stroke:.5px #5ac4f5">Share</div>


<svg class="abs" style="left:0;top:540px" width="80" height="160" viewBox="0 540 80 160" fill="none" stroke-linecap="round" stroke-linejoin="round">
  <path d="M24.6 570.4L34.4 584.2L27.6 582.9L22 587.2Z" stroke="#5ac4f5" stroke-width="1.95"/>
  <path d="M20.6 632L33.6 619" stroke="#c4c4c4" stroke-width="2.7" stroke-linecap="butt"/>
  <path d="M28.4 617.6L35.2 617L34.6 623.8Z" fill="#c4c4c4" stroke="#c4c4c4" stroke-width="1"/>
  <circle cx="26.9" cy="670.4" r="7.2" stroke="#c4c4c4" stroke-width="1.85"/>
  <path d="M32.2 675.6L36 679.4" stroke="#c4c4c4" stroke-width="1.85"/>
</svg>


<div class="abs" style="left:1019px;top:1199px;width:268px;height:51px;background:#191919;border-top-left-radius:5px"></div>
<svg class="abs" style="left:1019px;top:1199px" width="268" height="51" viewBox="1019 1199 268 51" fill="none" stroke="#c4c4c4" stroke-width="1.8" stroke-linecap="round" stroke-linejoin="round">
  <path d="M1033.6 1222.3C1036.4 1217.5 1039.2 1215.7 1042.2 1215.7C1045.2 1215.7 1048 1217.5 1050.8 1222.3C1048 1227.1 1045.2 1228.9 1042.2 1228.9C1039.2 1228.9 1036.4 1227.1 1033.6 1222.3Z"/>
  <circle cx="1042.2" cy="1222.3" r="2.6"/>
  <path d="M1081.7 1216.2H1094.9V1225.2H1081.7Z"/>
  <rect x="1080.1" y="1225.4" width="16.5" height="3" rx="1.2"/>
  <path d="M1206.2 1222.4H1219.2M1212.7 1215.9V1228.9"/>
  <path d="M1252.8 1222.4H1265.8"/>
</svg>
<div class="abs" style="left:1134.6px;top:1212px;font-size:17px;line-height:22px;color:#d0d0d0;letter-spacing:-.8px;font-weight:400;-webkit-text-stroke:.4px #d0d0d0">14%</div>

</div>

<div id="panel">
 <!-- header -->
 <svg class="abs" style="left:0;top:0" width="713" height="56" viewBox="1287 0 713 56" fill="none" stroke="#c4c4c4" stroke-width="1.6" stroke-linecap="round" stroke-linejoin="round">
  <path d="M1309.4 22.3L1315.2 28L1309.4 33.7M1316.8 22.3L1322.6 28L1316.8 33.7" stroke-width="1.95"/>
  <path d="M1364.6 20.6H1369.6V25.6M1369.4 20.8L1363.8 26.4M1360.2 35.2H1355.2V30.2M1355.4 35L1361 29.4" stroke-width="1.85"/>
 </svg>
 <div class="abs" style="left:140px;top:11.5px;width:434px;height:32.4px;background:#35383b;border:1px solid #44474b;border-radius:5px"></div>
 <svg class="abs" style="left:271px;top:19px" width="16" height="18" viewBox="0 0 16 18" fill="none" stroke="#c8c8c8" stroke-width="1.4" stroke-linecap="round" stroke-linejoin="round"><path d="M9.4 1.6H3.6A1.8 1.8 0 0 0 1.8 3.4V14.6A1.8 1.8 0 0 0 3.6 16.4H12.2A1.8 1.8 0 0 0 14 14.6V6.2Z"/><path d="M9.4 1.6V6.2H14M4.8 9.6H11M4.8 12.6H11"/></svg>
 <div class="tb-text" style="left:295.2px;color:#cdcdcd;letter-spacing:.26px">Papert - Mindstorm</div>
 <div class="tb-text" style="left:616.2px;color:#dedede;letter-spacing:.2px">Info</div>
 <svg class="abs" style="left:673px;top:24px" width="26" height="8" viewBox="0 0 26 8"><circle cx="4.4" cy="4" r="2" fill="#d0d0d0"/><circle cx="12.3" cy="4" r="2" fill="#d0d0d0"/><circle cx="20.2" cy="4" r="2" fill="#d0d0d0"/></svg>
 <!-- scrollbar -->
  <div class="abs" style="left:705px;top:55px;width:8px;height:1102.4px;background:#484a4e;border-radius:4px;box-shadow:0 0 2px rgba(0,0,0,.25)"></div>
 <!-- doc -->
 <div class="doc">
  <h1 style="top:135.8px;line-height:44px">Papert - Mindstorm</h1>
  <h2 style="top:227.6px;line-height:36px">Outline</h2>
  <div class="abs" style="left:71.6px;top:291.4px;width:7.2px;height:7.2px;border-radius:50%;background:#e4e4e4"></div>
<svg class="abs" style="left:96.5px;top:286.3px" width="20" height="20" viewBox="0 0 20 20" fill="none" stroke="#d9330f" stroke-width="1.65" stroke-linecap="round" stroke-linejoin="round"><path d="M14.3 1.35H16.4A2.3 2.3 0 0 1 18.7 3.65V16A2.3 2.3 0 0 1 16.4 18.3H3.6A2.3 2.3 0 0 1 1.3 16V7.4"/><rect x="1.3" y="1.3" width="10.4" height="3.7" rx="1.85"/></svg>
<div class="ol" style="left:121.8px;top:280px"><span class="lk">Mindstorm <span class="ar"><svg width="14" height="12" viewBox="0 0 14 12" fill="none" stroke="#7b7c80" stroke-width="1.35" stroke-linecap="round" stroke-linejoin="round"><path d="M1 6H12.6M7.8 1.2L12.8 6L7.8 10.8"/></svg></span> Cultural issues of education and the fear of</span></div>
<div class="ol" style="left:96.3px;top:310px"><span class="lk">math and engineering</span></div>
<div class="abs" style="left:74.6px;top:314px;width:1px;height:30px;background:#3b3c41"></div>
<div class="abs" style="left:71.6px;top:361.4px;width:7.2px;height:7.2px;border-radius:50%;background:#e4e4e4"></div>
<svg class="abs" style="left:96.5px;top:356.3px" width="20" height="20" viewBox="0 0 20 20" fill="none" stroke="#1db954" stroke-width="1.65" stroke-linecap="round" stroke-linejoin="round"><path d="M14.3 1.35H16.4A2.3 2.3 0 0 1 18.7 3.65V16A2.3 2.3 0 0 1 16.4 18.3H3.6A2.3 2.3 0 0 1 1.3 16V7.4"/><rect x="1.3" y="1.3" width="10.4" height="3.7" rx="1.85"/></svg>
<div class="ol" style="left:121.8px;top:350px"><span class="lk">Mindstorm <span class="ar"><svg width="14" height="12" viewBox="0 0 14 12" fill="none" stroke="#7b7c80" stroke-width="1.35" stroke-linecap="round" stroke-linejoin="round"><path d="M1 6H12.6M7.8 1.2L12.8 6L7.8 10.8"/></svg></span> We need meanful relationship between</span></div>
<div class="ol" style="left:96.3px;top:380px"><span class="lk">children and their learning material</span></div>
<div class="abs" style="left:74.6px;top:384px;width:1px;height:30px;background:#3b3c41"></div>
<div class="abs" style="left:71.6px;top:430.9px;width:7.2px;height:7.2px;border-radius:50%;background:#e4e4e4"></div>
<svg class="abs" style="left:96.5px;top:425.8px" width="20" height="20" viewBox="0 0 20 20" fill="none" stroke="#1db954" stroke-width="1.65" stroke-linecap="round" stroke-linejoin="round"><path d="M14.3 1.35H16.4A2.3 2.3 0 0 1 18.7 3.65V16A2.3 2.3 0 0 1 16.4 18.3H3.6A2.3 2.3 0 0 1 1.3 16V7.4"/><rect x="1.3" y="1.3" width="10.4" height="3.7" rx="1.85"/></svg>
<div class="ol" style="left:121.8px;top:419.5px"><span class="lk">Mindstorm <span class="ar"><svg width="14" height="12" viewBox="0 0 14 12" fill="none" stroke="#7b7c80" stroke-width="1.35" stroke-linecap="round" stroke-linejoin="round"><path d="M1 6H12.6M7.8 1.2L12.8 6L7.8 10.8"/></svg></span> How programming can help children</span></div>
<div class="ol" style="left:96.3px;top:449.5px"><span class="lk">acquire better intuition of knowledge</span></div>
<div class="abs" style="left:74.6px;top:453.5px;width:1px;height:30px;background:#3b3c41"></div>
<div class="abs" style="left:71.6px;top:500.4px;width:7.2px;height:7.2px;border-radius:50%;background:#e4e4e4"></div>
<svg class="abs" style="left:96.5px;top:495.3px" width="20" height="20" viewBox="0 0 20 20" fill="none" stroke="#e68a00" stroke-width="1.65" stroke-linecap="round" stroke-linejoin="round"><path d="M14.3 1.35H16.4A2.3 2.3 0 0 1 18.7 3.65V16A2.3 2.3 0 0 1 16.4 18.3H3.6A2.3 2.3 0 0 1 1.3 16V7.4"/><rect x="1.3" y="1.3" width="10.4" height="3.7" rx="1.85"/></svg>
<div class="ol" style="left:121.8px;top:489px"><span class="lk">Mindstorm <span class="ar"><svg width="14" height="12" viewBox="0 0 14 12" fill="none" stroke="#7b7c80" stroke-width="1.35" stroke-linecap="round" stroke-linejoin="round"><path d="M1 6H12.6M7.8 1.2L12.8 6L7.8 10.8"/></svg></span> Transfer learning that happens in</span></div>
<div class="ol" style="left:96.3px;top:519px"><span class="lk">programming and using software</span></div>
<div class="abs" style="left:74.6px;top:523px;width:1px;height:30px;background:#3b3c41"></div>
<div class="abs" style="left:71.6px;top:569.6999999999999px;width:7.2px;height:7.2px;border-radius:50%;background:#e4e4e4"></div>
<svg class="abs" style="left:96.5px;top:564.5999999999999px" width="20" height="20" viewBox="0 0 20 20" fill="none" stroke="#a3a3a3" stroke-width="1.65" stroke-linecap="round" stroke-linejoin="round"><path d="M14.3 1.35H16.4A2.3 2.3 0 0 1 18.7 3.65V16A2.3 2.3 0 0 1 16.4 18.3H3.6A2.3 2.3 0 0 1 1.3 16V7.4"/><rect x="1.3" y="1.3" width="10.4" height="3.7" rx="1.85"/></svg>
<div class="ol" style="left:121.8px;top:558.3px"><span class="lk">Mindstorm <span class="ar"><svg width="14" height="12" viewBox="0 0 14 12" fill="none" stroke="#7b7c80" stroke-width="1.35" stroke-linecap="round" stroke-linejoin="round"><path d="M1 6H12.6M7.8 1.2L12.8 6L7.8 10.8"/></svg></span> Incubating Knowledge</span></div>
<div class="abs" style="left:71.6px;top:609.1px;width:7.2px;height:7.2px;border-radius:50%;background:#e4e4e4"></div>
<svg class="abs" style="left:96.5px;top:604.0px" width="20" height="20" viewBox="0 0 20 20" fill="none" stroke="#1a86e8" stroke-width="1.65" stroke-linecap="round" stroke-linejoin="round"><path d="M14.3 1.35H16.4A2.3 2.3 0 0 1 18.7 3.65V16A2.3 2.3 0 0 1 16.4 18.3H3.6A2.3 2.3 0 0 1 1.3 16V7.4"/><rect x="1.3" y="1.3" width="10.4" height="3.7" rx="1.85"/></svg>
<div class="ol" style="left:121.8px;top:597.7px"><span class="lk">Mindstorm <span class="ar"><svg width="14" height="12" viewBox="0 0 14 12" fill="none" stroke="#7b7c80" stroke-width="1.35" stroke-linecap="round" stroke-linejoin="round"><path d="M1 6H12.6M7.8 1.2L12.8 6L7.8 10.8"/></svg></span> Piaget's epistemology &amp; AI</span></div>
<div class="abs" style="left:71.6px;top:648.4px;width:7.2px;height:7.2px;border-radius:50%;background:#e4e4e4"></div>
<svg class="abs" style="left:96.5px;top:643.3px" width="20" height="20" viewBox="0 0 20 20" fill="none" stroke="#1a86e8" stroke-width="1.65" stroke-linecap="round" stroke-linejoin="round"><path d="M14.3 1.35H16.4A2.3 2.3 0 0 1 18.7 3.65V16A2.3 2.3 0 0 1 16.4 18.3H3.6A2.3 2.3 0 0 1 1.3 16V7.4"/><rect x="1.3" y="1.3" width="10.4" height="3.7" rx="1.85"/></svg>
<div class="ol" style="left:121.8px;top:637px"><span class="lk">Mindstorm <span class="ar"><svg width="14" height="12" viewBox="0 0 14 12" fill="none" stroke="#7b7c80" stroke-width="1.35" stroke-linecap="round" stroke-linejoin="round"><path d="M1 6H12.6M7.8 1.2L12.8 6L7.8 10.8"/></svg></span> Papert's vision of the future "learning</span></div>
<div class="ol" style="left:96.3px;top:667px"><span class="lk">society"</span></div>
<div class="abs" style="left:74.6px;top:671px;width:1px;height:30px;background:#3b3c41"></div>
  <h2 style="top:736.4px;line-height:36px">Reference</h2>
  <svg class="abs" style="left:70px;top:797.5px" width="12" height="13" viewBox="0 0 12 13"><path d="M1.2 1.2L10.4 6.4L1.2 11.6Z" fill="#e4e4e4" stroke="#e4e4e4" stroke-width="1" stroke-linejoin="round"/></svg>
  <div class="ol" style="left:96.2px;top:788.6px;color:#e6e6e6;letter-spacing:.33px">Original Notes</div>
  <svg class="abs" style="left:234.8px;top:794.8px" width="18.6" height="20.4" viewBox="0 0 20 22" fill="none" stroke="url(#calg)" stroke-width="1.75" stroke-linecap="round" stroke-linejoin="round"><defs><linearGradient id="calg" x1="0" y1="0" x2="0" y2="22" gradientUnits="userSpaceOnUse"><stop offset="0" stop-color="#f2572c"/><stop offset="1" stop-color="#e8365f"/></linearGradient></defs><rect x="1.4" y="3.6" width="17.2" height="16.6" rx="2.6"/><path d="M1.4 8.6H18.6M5.8 1.2V5.4M14.2 1.2V5.4"/><path d="M5.4 12.2H6M9.7 12.2H10.3M14 12.2H14.6M5.4 16H6M9.7 16H10.3M14 16H14.6" stroke-width="2"/></svg>
  <div class="ol" style="left:259.2px;top:788.6px;color:#c6c6c6;letter-spacing:.3px"><span class="lk">Jun 27, 2023</span></div>
 </div>
 <!-- info -->
 <svg class="abs" style="left:58.6px;top:926px" width="17" height="17" viewBox="0 0 17 17" fill="none" stroke="#c6c6c6" stroke-width="1.4" stroke-linecap="round"><circle cx="8.5" cy="8.5" r="7"/><path d="M8.5 7.8V12"/><path d="M8.5 5V5.1" stroke-width="1.8"/></svg>
 <div class="abs" style="left:80.6px;top:921.7px;font-size:20.5px;line-height:26px;color:#c6c6c6;letter-spacing:.3px">Info</div>
 <div class="abs" style="left:593px;top:919.4px;width:63.2px;height:30.2px;border-radius:15.1px;background:#393a3f;color:#c9c9c9;font-size:17px;line-height:32px;text-align:center;letter-spacing:.3px">Hide</div>
 <div class="hr" style="top:963px"></div>
 <!-- whiteboards -->
 <svg class="abs" style="left:59.9px;top:989.3px" width="14.4" height="12.8" viewBox="0 0 18 16" fill="none" stroke="#77787d" stroke-width="1.5" stroke-linecap="round" stroke-linejoin="round"><path d="M1.2 2.4L6.2 1.2L11.8 2.6L16.8 1.4V13.6L11.8 14.8L6.2 13.4L1.2 14.6Z"/><path d="M6.2 1.2V13.4M11.8 2.6V14.8"/></svg>
 <div class="pl dim" style="left:82px;top:985px;letter-spacing:.1px">Whiteboards (2)</div>
 <svg class="abs" style="left:268.5px;top:989.7px" width="16.02" height="14.24" viewBox="0 0 18 16" fill="none" stroke="#e2e2e2" stroke-width="1.5" stroke-linecap="round" stroke-linejoin="round"><path d="M1.2 2.4L6.2 1.2L11.8 2.6L16.8 1.4V13.6L11.8 14.8L6.2 13.4L1.2 14.6Z"/><path d="M6.2 1.2V13.4M11.8 2.6V14.8"/></svg>
 <div class="pl" style="left:295px;top:985px;color:#efefef;letter-spacing:.05px">Product Research: Application Layer</div>
 <svg class="abs" style="left:268.5px;top:1015.3px" width="16.02" height="14.24" viewBox="0 0 18 16" fill="none" stroke="#e2e2e2" stroke-width="1.5" stroke-linecap="round" stroke-linejoin="round"><path d="M1.2 2.4L6.2 1.2L11.8 2.6L16.8 1.4V13.6L11.8 14.8L6.2 13.4L1.2 14.6Z"/><path d="M6.2 1.2V13.4M11.8 2.6V14.8"/></svg>
 <div class="pl" style="left:295px;top:1010.6px;color:#efefef;letter-spacing:.25px">Mindstorm</div>
 <!-- tags -->
 <div class="pl dim" style="left:61.4px;top:1051.6px;font-size:18.5px;-webkit-text-stroke:.45px">#</div>
 <div class="pl dim" style="left:82.4px;top:1052px;letter-spacing:-.1px">Tags (1)</div>
 <div class="abs" style="left:257.9px;top:1050.5px;width:195px;height:25.4px;border:1px solid #5b5c61;border-radius:12.7px;font-size:15px;line-height:22.4px;color:#d2d2d2;padding-left:11.2px;white-space:nowrap;letter-spacing:.02px;-webkit-text-stroke:.2px"># research - hci reference</div>
 <svg class="abs" style="left:462.8px;top:1056px" width="14" height="14" viewBox="0 0 14 14" fill="none" stroke="#c8c8c8" stroke-width="1.3"><circle cx="7" cy="7" r="5.2"/></svg>
 <div class="hr" style="top:1095px"></div>
 <!-- document type -->
 <svg class="abs" style="left:60px;top:1122.8px" width="14.2" height="11.5" viewBox="0 0 16 13" fill="none" stroke="#c6c6c6" stroke-width="1.4" stroke-linecap="round"><path d="M4.6 2H14.6M4.6 6.5H14.6M4.6 11H14.6"/><path d="M1 2H1.6M1 6.5H1.6M1 11H1.6" stroke-width="1.6"/></svg>
 <div class="pl" style="left:82px;top:1117px;letter-spacing:.16px">Document Type</div>
 <div class="abs" style="left:257.9px;top:1115px;width:133.4px;height:25.6px;border-radius:6px;background:#1f5187;border:1px solid #2a5f9b;color:#f4f4f4;font-size:17.5px;line-height:25.2px;padding-left:6.4px;white-space:nowrap;letter-spacing:-.25px">Reference Note</div>
 <!-- important -->
 <svg class="abs" style="left:60px;top:1162.6px" width="14" height="14" viewBox="0 0 15 15"><rect x=".5" y=".5" width="14" height="14" rx="1.6" fill="#c9c9c9"/><path d="M4.4 7.6L6.6 9.8L10.6 5.4" fill="none" stroke="#292a2e" stroke-width="1.5" stroke-linecap="round" stroke-linejoin="round"/></svg>
 <div class="pl" style="left:82px;top:1158.4px;letter-spacing:.33px">Important</div>
 <div class="abs" style="left:257.9px;top:1160px;width:19px;height:19px;border-radius:3.6px;background:#5cc6f8"></div>
 <svg class="abs" style="left:257.9px;top:1160px" width="19" height="19" viewBox="0 0 19 19" fill="none" stroke="#1d2a33" stroke-width="1.7" stroke-linecap="round" stroke-linejoin="round"><path d="M4.6 9.8L8 13.2L14.6 6.2"/></svg>
 <!-- insight -->
 <svg class="abs" style="left:60px;top:1205.6px" width="14.2" height="12.4" viewBox="0 0 16 14" fill="none" stroke="#c6c6c6" stroke-width="1.4" stroke-linecap="round"><path d="M1 1.6H14.6M1 5.2H14.6M1 8.8H14.6M1 12.4H10"/></svg>
 <div class="pl" style="left:82px;top:1200.2px;letter-spacing:.2px">Insight</div>
 <div class="pl" style="left:257.9px;top:1200.2px;color:#696a6f;letter-spacing:.2px">Empty</div>
 <div class="hr" style="top:1243px"></div>
</div>

</body></html>
